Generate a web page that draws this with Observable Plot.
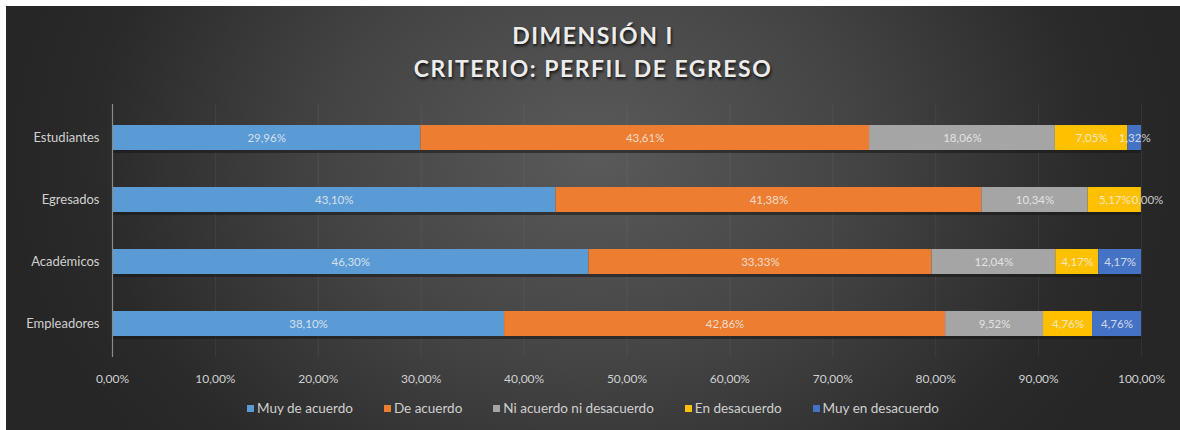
<!DOCTYPE html>
<html>
<head>
<meta charset="utf-8">
<script src="https://cdn.jsdelivr.net/npm/d3@7"></script>
<script src="https://cdn.jsdelivr.net/npm/@observablehq/plot@0.6"></script>
<style>
  html, body { margin: 0; padding: 0; background: #fff; width: 1180px; height: 430px; overflow: hidden; }
  #bg { position: absolute; left: 6px; top: 6px; width: 1174px; height: 424px;
        background: radial-gradient(ellipse 50% 110% at 50% 35%, #5a5a5a 0%, #444 45%, #2a2a2a 85%, #262626 100%); }
  #title { position: absolute; left: 6px; top: 19px; width: 1174px; text-align: center;
           font-family: Lato, "Open Sans", sans-serif; font-weight: bold; font-size: 23px; line-height: 33px;
           letter-spacing: 1.5px; color: #ececec; text-shadow: 1px 2px 3px rgba(0,0,0,0.8); }
  #chart { position: absolute; left: 0; top: 86px; }
  #legend { position: absolute; left: 6px; top: 400px; width: 1174px; display: flex; justify-content: center;
            gap: 31px; font-family: Lato, "Open Sans", sans-serif; font-size: 13.5px; color: #cfcfcf; }
  #legend .it { display: flex; align-items: center; gap: 3px; }
  #legend .sw { width: 7px; height: 7px; display: inline-block; }
</style>
</head>
<body>
<div id="bg"></div>
<div id="title">DIMENSIÓN I<br>CRITERIO: PERFIL DE EGRESO</div>
<div id="chart"></div>
<div id="legend"></div>
<script>
const groups = ["Estudiantes", "Egresados", "Académicos", "Empleadores"];
const levels = ["Muy de acuerdo", "De acuerdo", "Ni acuerdo ni desacuerdo", "En desacuerdo", "Muy en desacuerdo"];
const muyDeAcuerdo = [29.96, 43.10, 46.30, 38.10];
const deAcuerdo = [43.61, 41.38, 33.33, 42.86];
const niAcuerdo = [18.06, 10.34, 12.04, 9.52];
const enDesacuerdo = [7.05, 5.17, 4.17, 4.76];
const muyEnDesacuerdo = [1.32, 0.00, 4.17, 4.76];
const colors = ["#5B9BD5", "#ED7D31", "#A5A5A5", "#FFC000", "#4472C4"];
const xTicks = [0, 10, 20, 30, 40, 50, 60, 70, 80, 90, 100];

const series = [muyDeAcuerdo, deAcuerdo, niAcuerdo, enDesacuerdo, muyEnDesacuerdo];
const rows = [];
groups.forEach((g, i) => levels.forEach((l, j) => rows.push({group: g, level: l, value: series[j][i]})));

const fmt = v => v.toFixed(2).replace(".", ",") + "%";

const chart = Plot.plot({
  width: 1180,
  height: 306,
  marginLeft: 112,
  marginRight: 39,
  marginTop: 18,
  marginBottom: 35,
  style: {background: "transparent", fontFamily: "Lato, 'Open Sans', sans-serif", fontSize: "12px", color: "#d0d0d0", overflow: "visible"},
  x: {domain: [0, 100], ticks: xTicks, tickFormat: fmt, label: null},
  y: {domain: groups, paddingInner: 0.6, paddingOuter: 0.32, label: null},
  color: {domain: levels, range: colors},
  marks: [
    Plot.gridX(xTicks, {stroke: "#ffffff", strokeOpacity: 0.06}),
    Plot.barX(rows, Plot.stackX({x: "value", y: "group", z: "level", order: levels, fill: "#151515", fillOpacity: 0.55, dy: 3})),
    Plot.barX(rows, Plot.stackX({x: "value", y: "group", z: "level", fill: "level", order: levels})),
    Plot.text(rows, Plot.stackX({x: "value", y: "group", z: "level", order: levels,
      text: d => d.value === 0 ? "" : fmt(d.value),
      fill: "#f4f4f4", fillOpacity: 0.8, fontSize: 11.5})),
    Plot.text(rows, Plot.stackX({x: "value", y: "group", z: "level", order: levels,
      text: d => d.value === 0 ? fmt(d.value) : "",
      fill: "#f4f4f4", fillOpacity: 0.8, fontSize: 11.5, dx: 6})),
    Plot.axisX({ticks: xTicks, tickFormat: fmt, tickSize: 0, tickPadding: 17, fill: "#d0d0d0", label: null}),
    Plot.axisY({tickSize: 0, tickPadding: 13, fill: "#d0d0d0", fontSize: 13, label: null}),
    Plot.ruleX([0], {stroke: "#8a8a8a", strokeWidth: 1.2})
  ]
});
document.getElementById("chart").appendChild(chart);

const legend = document.getElementById("legend");
levels.forEach((l, j) => {
  const it = document.createElement("span");
  it.className = "it";
  const sw = document.createElement("span");
  sw.className = "sw";
  sw.style.background = colors[j];
  it.appendChild(sw);
  it.appendChild(document.createTextNode(l));
  legend.appendChild(it);
});
</script>
</body>
</html>
